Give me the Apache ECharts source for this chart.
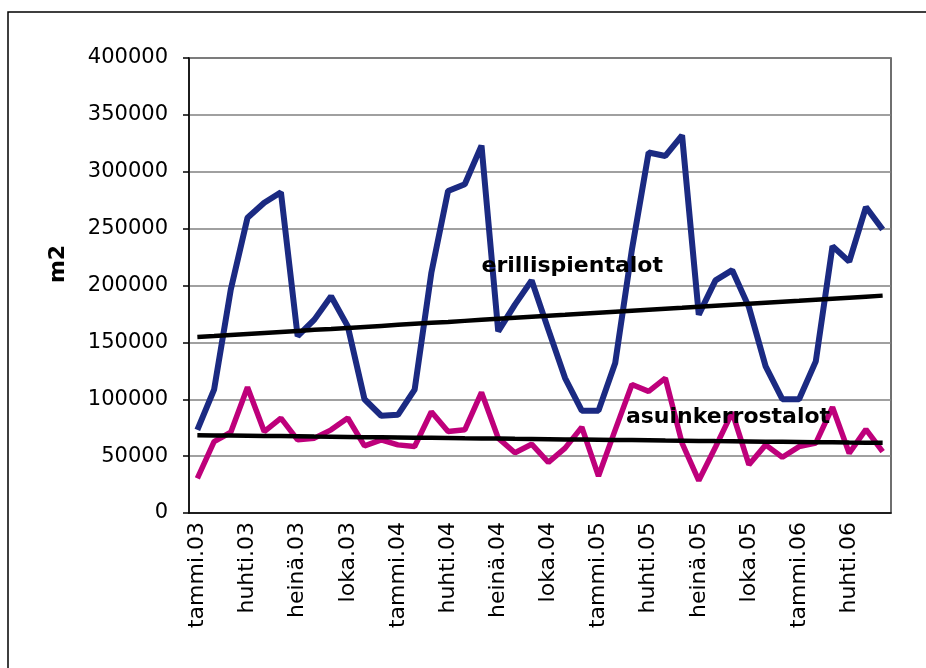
<!DOCTYPE html>
<html>
<head>
<meta charset="utf-8">
<script src="https://cdn.jsdelivr.net/npm/echarts@6/dist/echarts.min.js"></script>
<style>
  html, body { margin: 0; padding: 0; background: #fff; }
  #main { width: 926px; height: 668px; }
</style>
</head>
<body>
<div id="main"></div>
<script>
// kuukaudet tammi.03 - kesä.06
var months = ['tammi', 'helmi', 'maalis', 'huhti', 'touko', 'kesä',
              'heinä', 'elo', 'syys', 'loka', 'marras', 'joulu'];
var years = ['03', '04', '05', '06'];
var categories = [];
for (var y = 0; y < years.length; y++) {
  for (var m = 0; m < 12; m++) {
    if (categories.length < 42) categories.push(months[m] + '.' + years[y]);
  }
}

var erillispientalot = [
  73000, 108400, 196500, 259600, 272800, 282000, 155400, 170000, 190600, 164100,
  100000, 85500, 86300, 108400, 211200, 283100, 289000, 323000, 159700, 183200,
  204500, 161200, 118600, 90000, 90000, 131900, 231700, 316900, 313900, 332000,
  174400, 204500, 213500, 181000, 128900, 100000, 100000, 133300, 234600, 221000,
  269000, 249300
];
var asuinkerrostalot = [
  30500, 62800, 71000, 110500, 71600, 83400, 64300, 65800, 73100, 83500,
  59000, 64300, 59900, 58500, 89000, 71600, 73100, 106000, 65800, 53000,
  60500, 44500, 57000, 75500, 32500, 73100, 113000, 106900, 118500, 61400,
  28500, 58000, 88500, 42500, 59900, 49000, 58400, 61400, 93000, 52500,
  73500, 54000
];
// trendit luettu kuvasta
var trendErillis = [
  154800, 155600, 156500, 157400, 158300, 159200, 160100, 161000, 161800, 162700,
  163600, 164500, 165400, 166300, 167200, 168000, 168900, 169800, 170700, 171600,
  172500, 173400, 174200, 175100, 176000, 176900, 177800, 178700, 179600, 180400,
  181300, 182200, 183100, 184000, 184900, 185800, 186600, 187500, 188400, 189300,
  190200, 191100
];
var trendAsuin = [
  68400, 68200, 68100, 67900, 67700, 67600, 67400, 67200, 67100, 66900,
  66700, 66600, 66400, 66200, 66100, 65900, 65700, 65600, 65400, 65200,
  65100, 64900, 64700, 64600, 64400, 64200, 64100, 63900, 63700, 63600,
  63400, 63200, 63100, 62900, 62700, 62600, 62400, 62200, 62100, 61900,
  61800, 61700
];
var yTicks = [0, 400000, 50000];

var myChart = echarts.init(document.getElementById('main'));

var labelFont = 'DejaVu Sans';
var option = {
  animation: false,
  backgroundColor: '#fff',
  grid: {
    left: 189, right: 35, top: 58, bottom: 155,
    show: true, borderColor: '#404040', borderWidth: 1.5
  },
  xAxis: {
    type: 'category',
    data: categories,
    boundaryGap: true,
    axisLine: { lineStyle: { color: '#000', width: 1.5 } },
    axisTick: { interval: 2, length: 6, lineStyle: { color: '#000', width: 1.5 } },
    axisLabel: {
      interval: 2, rotate: 90, margin: 9,
      color: '#000', fontFamily: labelFont, fontSize: 22
    },
    splitLine: { show: false }
  },
  yAxis: {
    type: 'value',
    min: yTicks[0], max: yTicks[1], interval: yTicks[2],
    axisLine: { show: true, lineStyle: { color: '#000', width: 1.5 } },
    axisTick: { show: true, length: 6, lineStyle: { color: '#000', width: 1.5 } },
    axisLabel: {
      margin: 21, color: '#000', fontFamily: labelFont, fontSize: 21,
      formatter: function (v) { return String(v); }
    },
    splitLine: { lineStyle: { color: '#808080', width: 1.5 } }
  },
  series: [
    {
      name: 'erillispientalot', type: 'line', data: erillispientalot,
      symbol: 'none', lineStyle: { color: '#1b2a82', width: 6 }
    },
    {
      name: 'asuinkerrostalot', type: 'line', data: asuinkerrostalot,
      symbol: 'none', lineStyle: { color: '#be007b', width: 5.5 }
    },
    {
      name: 'trendi erillispientalot', type: 'line', data: trendErillis,
      symbol: 'none', lineStyle: { color: '#000', width: 4.5 },
      markPoint: {
        symbol: 'circle', symbolSize: 0,
        label: {
          show: true, position: 'right', distance: 0,
          formatter: 'erillispientalot',
          color: '#000', fontFamily: labelFont, fontWeight: 'bold', fontSize: 22
        },
        data: [{ coord: [17, 216500] }]
      }
    },
    {
      name: 'trendi asuinkerrostalot', type: 'line', data: trendAsuin,
      symbol: 'none', lineStyle: { color: '#000', width: 4.5 },
      markPoint: {
        symbol: 'circle', symbolSize: 0,
        label: {
          show: true, position: 'right', distance: 0, offset: [-6, 0],
          formatter: 'asuinkerrostalot',
          color: '#000', fontFamily: labelFont, fontWeight: 'bold', fontSize: 22
        },
        data: [{ coord: [26, 84500] }]
      }
    }
  ],
  graphic: [
    {
      type: 'rect', z: -1, silent: true,
      shape: { x: 8, y: 12, width: 1200, height: 1000 },
      style: { fill: 'none', stroke: '#000', lineWidth: 1.5 }
    },
    {
      type: 'text', x: 58, y: 264, rotation: Math.PI / 2,
      style: {
        text: 'm2', fill: '#000', align: 'center', verticalAlign: 'middle',
        font: 'bold 22px "DejaVu Sans"'
      }
    }
  ]
};

myChart.setOption(option);
</script>
</body>
</html>
